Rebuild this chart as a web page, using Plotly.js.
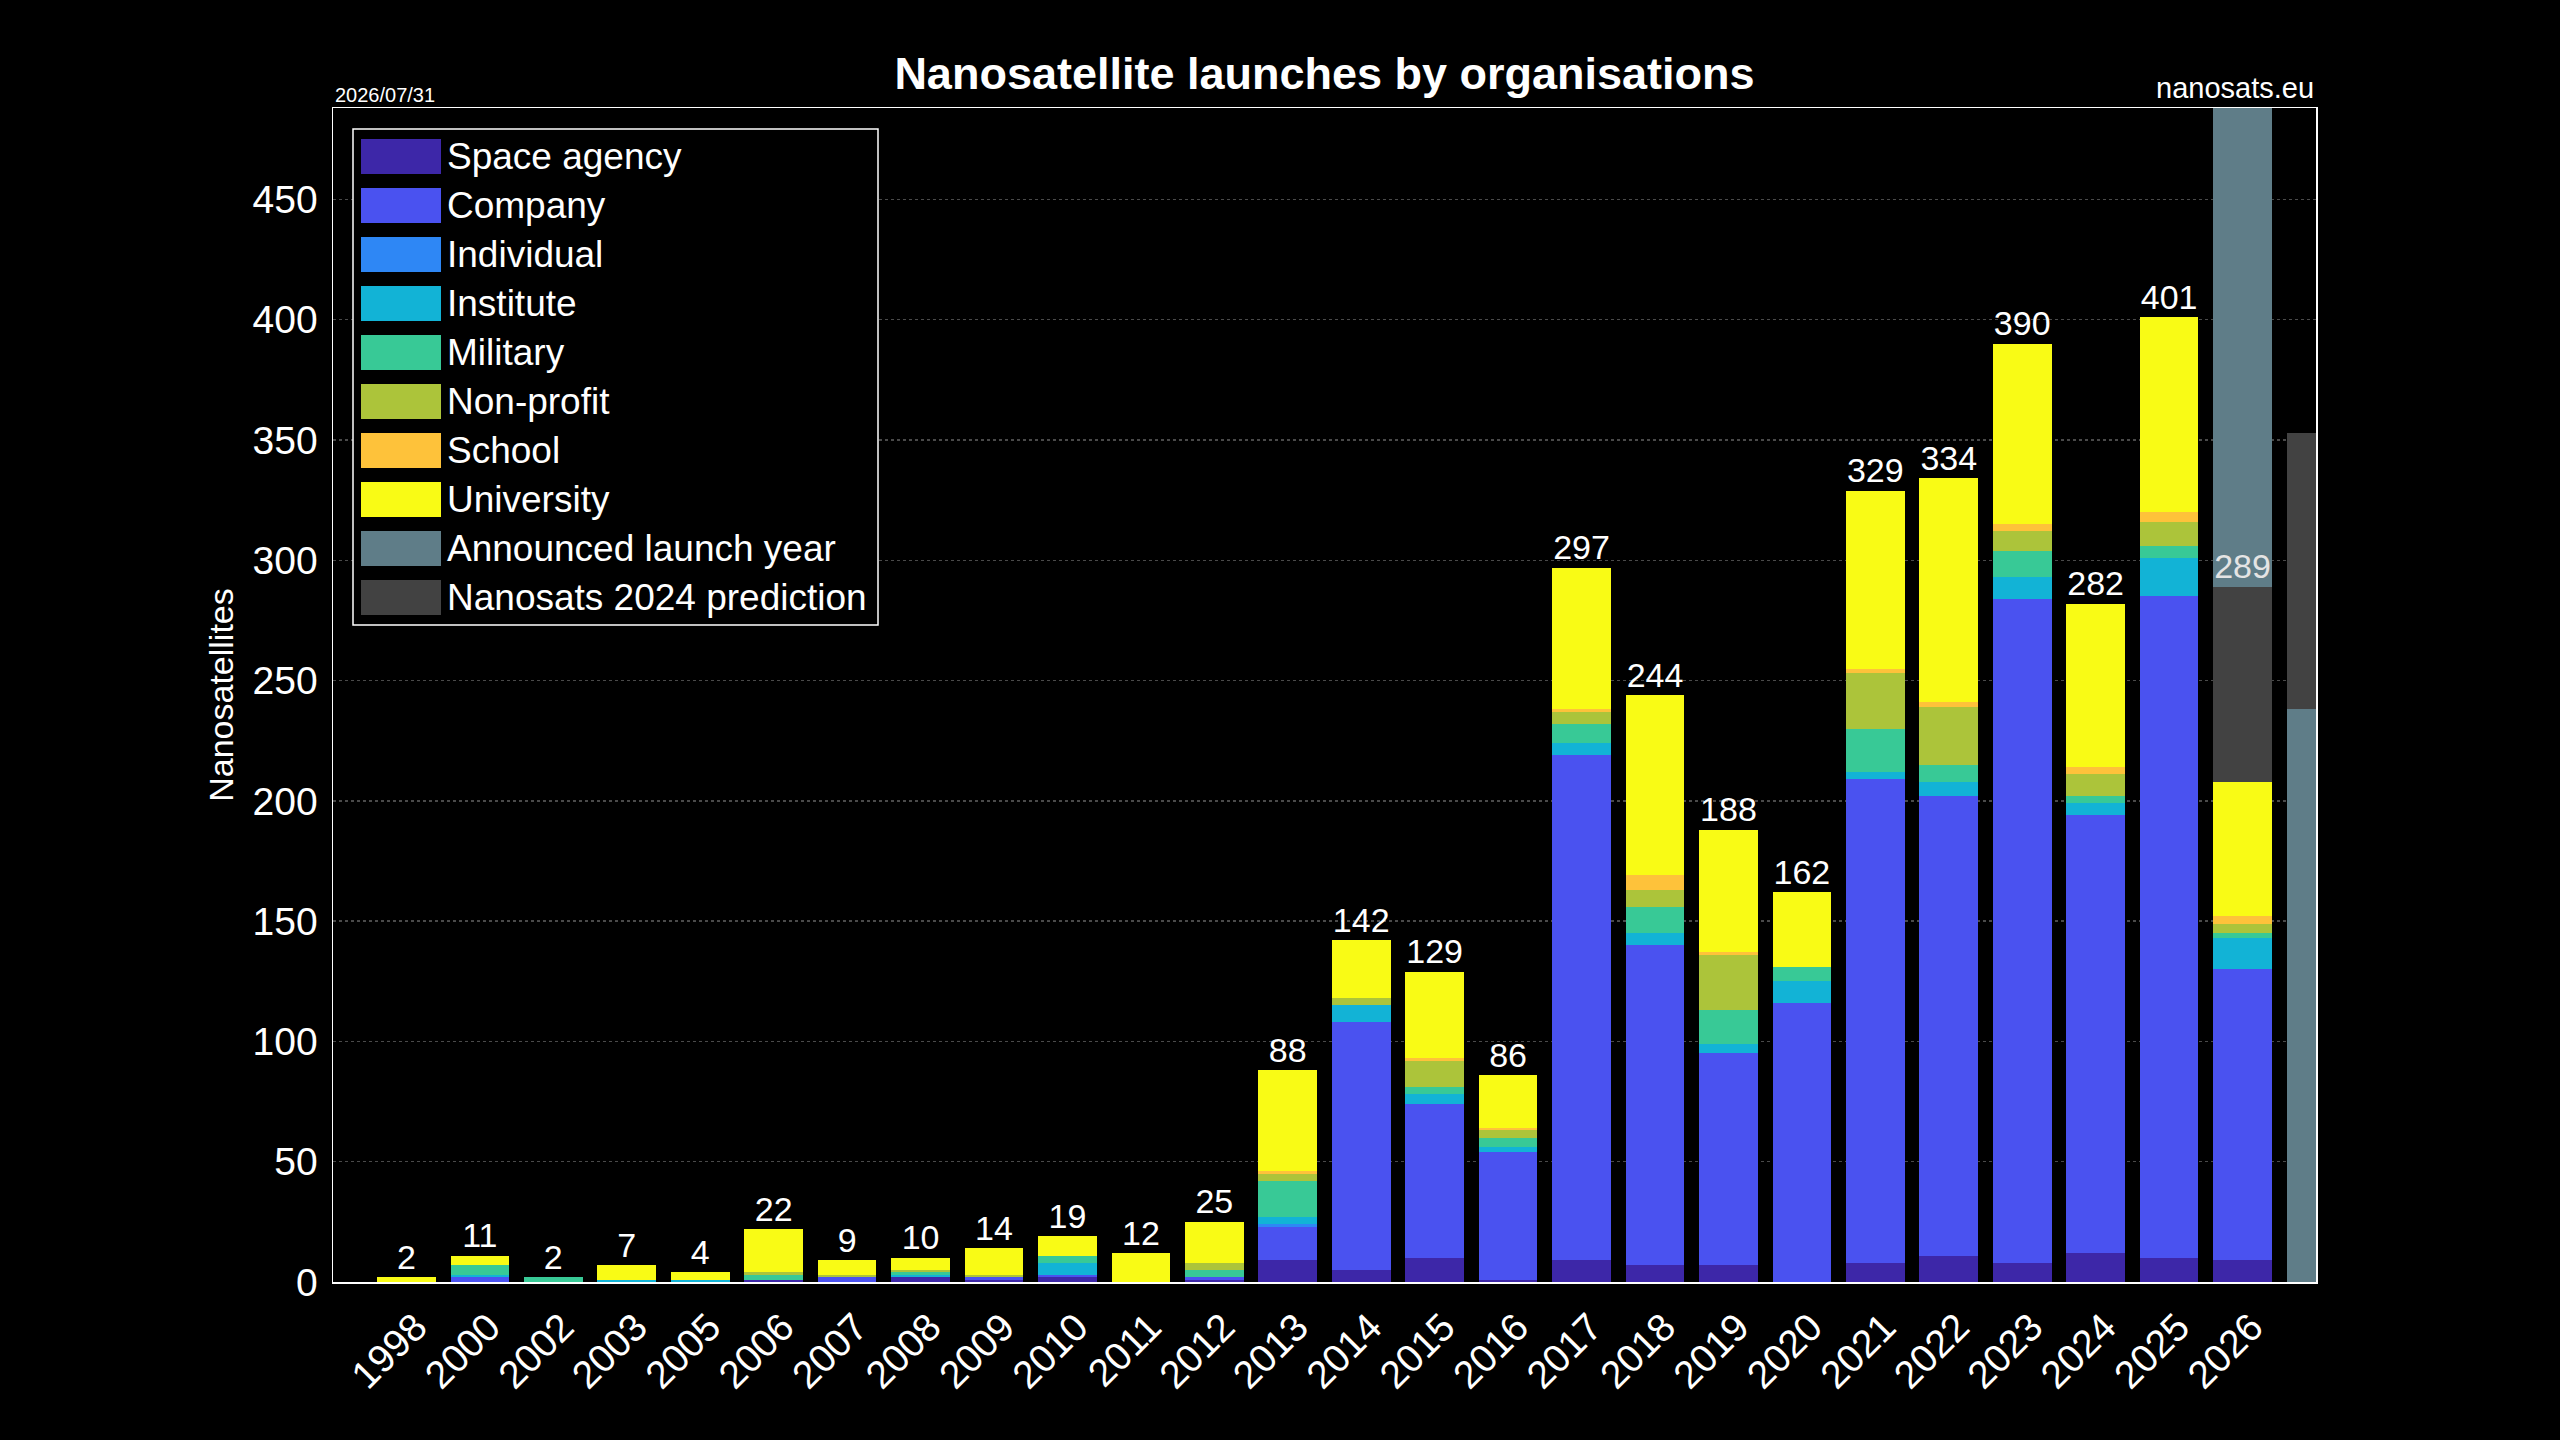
<!DOCTYPE html>
<html>
<head>
<meta charset="utf-8">
<script src="https://cdn.plot.ly/plotly-3.0.1.min.js"></script>
<style>
  html, body { margin: 0; padding: 0; background: #000; }
  #chart { width: 2560px; height: 1440px; }
</style>
</head>
<body>
<div id="chart"></div>
<script>
// Launch years (2027 is only partly visible at the right edge)
const years = ['1998', '2000', '2002', '2003', '2005', '2006', '2007', '2008', '2009', '2010',
  '2011', '2012', '2013', '2014', '2015', '2016', '2017', '2018', '2019', '2020',
  '2021', '2022', '2023', '2024', '2025', '2026', '2027'];
const tickYears = years.slice(0, 26);

// Nanosatellites per organisation type
const spaceAgency = [0, 0, 0, 0, 0, 1, 0, 2, 1, 2, 0, 1, 9, 5, 10, 1, 9, 7, 7, 0, 8, 11, 8, 12, 10, 9, 0];
const company     = [0, 2, 0, 0, 0, 0, 2, 0, 1, 1, 0, 1, 14, 103, 64, 53, 210, 133, 88, 116, 201, 191, 276, 182, 275, 121, 0];
const individual  = [0, 0, 0, 0, 0, 0, 0, 0, 0, 0, 0, 0, 1, 0, 0, 0, 0, 0, 0, 0, 0, 0, 0, 0, 0, 0, 0];
const institute   = [0, 1, 0, 1, 1, 0, 0, 1, 0, 5, 0, 0, 3, 7, 4, 2, 5, 5, 4, 9, 3, 6, 9, 5, 16, 13, 0];
const military    = [0, 4, 2, 0, 0, 2, 0, 1, 0, 3, 0, 3, 15, 0, 3, 4, 8, 11, 14, 6, 18, 7, 11, 3, 5, 2, 0];
const nonProfit   = [0, 0, 0, 0, 0, 1, 1, 1, 1, 0, 0, 3, 3, 3, 11, 3, 5, 7, 23, 0, 23, 24, 8, 9, 10, 4, 0];
const school      = [0, 0, 0, 0, 0, 0, 0, 0, 0, 0, 0, 0, 1, 0, 1, 1, 1, 6, 1, 0, 2, 2, 3, 3, 4, 3, 0];
const university  = [2, 4, 0, 6, 3, 18, 6, 5, 11, 8, 12, 17, 42, 24, 36, 22, 59, 75, 51, 31, 74, 93, 75, 68, 81, 56, 0];

// Prediction remainder and announced launches
const prediction     = [0, 0, 0, 0, 0, 0, 0, 0, 0, 0, 0, 0, 0, 0, 0, 0, 0, 0, 0, 0, 0, 0, 0, 0, 0, 81, 0];
const announced      = [0, 0, 0, 0, 0, 0, 0, 0, 0, 0, 0, 0, 0, 0, 0, 0, 0, 0, 0, 0, 0, 0, 0, 0, 0, 260, 238];
const predictionNext = [0, 0, 0, 0, 0, 0, 0, 0, 0, 0, 0, 0, 0, 0, 0, 0, 0, 0, 0, 0, 0, 0, 0, 0, 0, 0, 115];

const orgNames = ['Space agency', 'Company', 'Individual', 'Institute', 'Military', 'Non-profit', 'School', 'University'];
const orgSeries = [spaceAgency, company, individual, institute, military, nonProfit, school, university];
const orgColors = ['#3d27a8', '#4a52f0', '#2e87f5', '#12b3d6', '#38c996', '#acc43a', '#fec23a', '#f9fb15'];
const announcedColor = '#5f7d88';
const predictionColor = '#424242';

const FONT = 'Liberation Sans, Arial, sans-serif';
const W = 2560, H = 1440;
const margin = { l: 333, r: 244, t: 108, b: 158 };

// pixel -> paper helpers (only for the legend and corner labels)
const plotW = W - margin.l - margin.r;
const plotH = H - margin.t - margin.b;
const px = (x) => (x - margin.l) / plotW;
const py = (y) => (H - margin.b - y) / plotH;

const traces = orgSeries.map((values, i) => ({
  type: 'bar',
  name: orgNames[i],
  x: years,
  y: values,
  marker: { color: orgColors[i], line: { width: 0 } },
  showlegend: false
}));

traces.push({
  type: 'bar', name: 'Nanosats 2024 prediction', x: years, y: prediction,
  marker: { color: predictionColor, line: { width: 0 } }, showlegend: false
});
traces.push({
  type: 'bar', name: 'Announced launch year', x: years, y: announced,
  marker: { color: announcedColor, line: { width: 0 } }, showlegend: false
});
traces.push({
  type: 'bar', name: 'Nanosats 2024 prediction', x: years, y: predictionNext,
  marker: { color: predictionColor, line: { width: 0 } }, showlegend: false
});

// Totals above each bar (organisations + prediction remainder)
const totals = tickYears.map((_, i) =>
  orgSeries.reduce((s, arr) => s + arr[i], 0) + prediction[i]);
traces.push({
  type: 'scatter',
  mode: 'text',
  x: tickYears,
  y: totals,
  text: totals.map(String),
  textposition: 'top center',
  textfont: {
    family: FONT, size: 34,
    color: tickYears.map((_, i) => prediction[i] > 0 ? '#e4e4e4' : '#ffffff')
  },
  cliponaxis: false,
  showlegend: false,
  hoverinfo: 'skip'
});

// Hand-drawn legend with large swatches
const legendNames = orgNames.concat(['Announced launch year', 'Nanosats 2024 prediction']);
const legendColors = orgColors.concat([announcedColor, predictionColor]);
const shapes = [{
  type: 'rect', xref: 'paper', yref: 'paper', layer: 'above',
  x0: px(353), x1: px(878), y0: py(129), y1: py(625),
  fillcolor: '#000000', line: { color: '#ffffff', width: 1.5 }
}];
const annotations = [];
legendNames.forEach((name, i) => {
  const cy = 156.5 + i * 49;
  shapes.push({
    type: 'rect', xref: 'paper', yref: 'paper', layer: 'above',
    x0: px(361), x1: px(441), y0: py(cy + 17.5), y1: py(cy - 17.5),
    fillcolor: legendColors[i], line: { width: 0 }
  });
  annotations.push({
    xref: 'paper', yref: 'paper', x: px(445), y: py(cy),
    xanchor: 'left', yanchor: 'middle', showarrow: false,
    text: name, font: { family: FONT, size: 37, color: '#ffffff' }
  });
});

annotations.push({
  xref: 'paper', yref: 'paper', x: 0, y: 1, xanchor: 'left', yanchor: 'bottom',
  yshift: 0, showarrow: false, text: '2026/07/31',
  font: { family: FONT, size: 20, color: '#ffffff' }
});
annotations.push({
  xref: 'paper', yref: 'paper', x: 1, y: 1, xanchor: 'right', yanchor: 'bottom',
  yshift: 2, showarrow: false, text: 'nanosats.eu',
  font: { family: FONT, size: 29, color: '#ffffff' }
});

const layout = {
  width: W,
  height: H,
  margin: margin,
  paper_bgcolor: '#000000',
  plot_bgcolor: '#000000',
  font: { family: FONT, color: '#ffffff' },
  barmode: 'stack',
  bargap: 0.2,
  showlegend: false,
  title: {
    text: 'Nanosatellite launches by organisations',
    font: { family: FONT, size: 45, weight: 'bold', color: '#ffffff' },
    xref: 'paper', x: 0.5, xanchor: 'center',
    yref: 'container', y: 1 - 73 / H, yanchor: 'middle'
  },
  xaxis: {
    type: 'category',
    categoryorder: 'array',
    categoryarray: years,
    range: [-1, 26],
    tickvals: tickYears,
    ticktext: tickYears,
    tickangle: -45,
    tickfont: { family: FONT, size: 39, color: '#ffffff' },
    ticklabelshift: 9,
    ticklabelstandoff: 5,
    showgrid: false,
    showline: true, mirror: true, linecolor: '#ffffff', linewidth: 1.5,
    ticks: '',
    zeroline: false
  },
  yaxis: {
    range: [0, 488],
    dtick: 50,
    tickfont: { family: FONT, size: 39, color: '#ffffff' },
    ticks: '',
    ticklabelstandoff: 6,
    showgrid: true, gridcolor: '#4a4a4a', gridwidth: 1.5, griddash: 'dot',
    showline: true, mirror: true, linecolor: '#ffffff', linewidth: 1.5,
    zeroline: false,
    title: {
      text: 'Nanosatellites',
      font: { family: FONT, size: 34, color: '#ffffff' },
      standoff: 8
    }
  },
  shapes: shapes,
  annotations: annotations
};

Plotly.newPlot('chart', traces, layout, { staticPlot: true });
</script>
</body>
</html>
